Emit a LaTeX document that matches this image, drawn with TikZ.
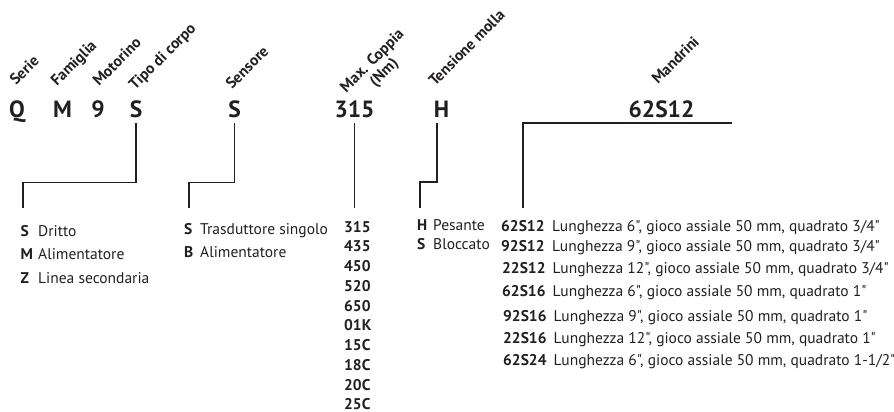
\documentclass[tikz,border=0pt]{standalone}
\usepackage{fontspec}
\setmainfont{PT Sans}[Ligatures=TeXOff]
\usetikzlibrary{positioning}
\definecolor{ink}{HTML}{231F20}

\begin{document}
\begin{tikzpicture}[x=1pt,y=-1pt,every node/.style={text=ink,inner sep=0pt},
  code/.style={font=\fontsize{23.5}{24}\selectfont\bfseries,anchor=base,outer ysep=5.5pt},
  field/.style={font=\fontsize{15.5}{16.5}\selectfont\bfseries,rotate=45,anchor=base west,align=center},
  key/.style={font=\fontsize{15.5}{16}\selectfont\bfseries,anchor=base west},
  desc/.style={font=\fontsize{15.5}{16}\selectfont,anchor=base west},
  link/.style={ink,line width=1.5pt}]
\useasboundingbox (0,0) rectangle (894,412);
% field names
\node[field] (fserie) at (16,86) {Serie};
\node[field] (ffam) at (57,87) {Famiglia};
\node[field] (fmot) at (99,87) {Motorino};
\node[field] (ftipo) at (135,91) {Tipo di corpo};
\node[field] (fsens) at (232,90) {Sensore};
\node[field] (fcopp) at (358,105) {Max. Coppia\\(Nm)};
\node[field] (fmol) at (435,87) {Tensione molla};
\node[field] (fmand) at (658,85) {Mandrini};
% model code
\node[code] (serie) at (17,117.5) {Q};
\node[code] (fam) at (62.5,117.5) {M};
\node[code] (mot) at (98,117.5) {9};
\node[code] (tipo) at (136,117.5) {S};
\node[code] (sens) at (234.5,117.5) {S};
\node[code] (copp) at (354.5,117.5) {315};
\node[code] (mol) at (441.5,117.5) {H};
\node[code] (mand) at (661.5,117.5) {62S12};
% options
\foreach \k/\t/\y [count=\i] in {S/Dritto/236,M/Alimentatore/259,Z/Linea secondaria/283}
  {\node[key] (tk\i) at (20.5,\y) {\k};
   \node[desc] (tt\i) at (38,\y) {\t};}
\foreach \k/\t/\y [count=\i] in {S/Trasduttore singolo/234,B/Alimentatore/257}
  {\node[key] (sk\i) at (184,\y) {\k};
   \node[desc] (st\i) at (200,\y) {\t};}
\foreach \v [count=\i] in {315,435,450,520,650,01K,15C,18C,20C,25C}
  \node[key] (cv\i) at (344,{232+19.75*(\i-1)}) {\v};
\foreach \k/\t/\y [count=\i] in {H/Pesante/230,S/Bloccato/249}
  {\node[key] (mk\i) at (417,\y) {\k};
   \node[desc] (mt\i) at (433,\y) {\t};}
\foreach \c/\d/\xc/\xd/\y [count=\i] in {
  62S12/{Lunghezza 6", gioco assiale 50 mm, quadrato 3/4"}/501/552/231,
  92S12/{Lunghezza 9", gioco assiale 50 mm, quadrato 3/4"}/501/552/251,
  22S12/{Lunghezza 12", gioco assiale 50 mm, quadrato 3/4"}/502/552.5/273,
  62S16/{Lunghezza 6", gioco assiale 50 mm, quadrato 1"}/502/552.5/296,
  92S16/{Lunghezza 9", gioco assiale 50 mm, quadrato 1"}/503/553.5/321,
  22S16/{Lunghezza 12", gioco assiale 50 mm, quadrato 1"}/503/553.5/343,
  62S24/{Lunghezza 6", gioco assiale 50 mm, quadrato 1-1/2"}/503/553.5/365}
  {\node[key] (dk\i) at (\xc,\y) {\c};
   \node[desc] (dt\i) at (\xd,\y) {\d};}
% connectors
\coordinate (tipoend) at (23,208);
\coordinate (sensend) at (189,208);
\coordinate (molend) at (420,208);
\coordinate (mandend) at (523,208);
\coordinate (mandtail) at (732,123);
\draw[link] (tipo.south) -- ++(0,59) -| (tipoend);
\draw[link] (sens.south) -- ++(0,59) -| (sensend);
\draw[link] (copp.south) -- ++(0,85);
\draw[link] ([xshift=-4.5pt]mol.south) -- ++(0,59) -| (molend);
\draw[link] (mandtail) -| (mandend);
\end{tikzpicture}
\end{document}
